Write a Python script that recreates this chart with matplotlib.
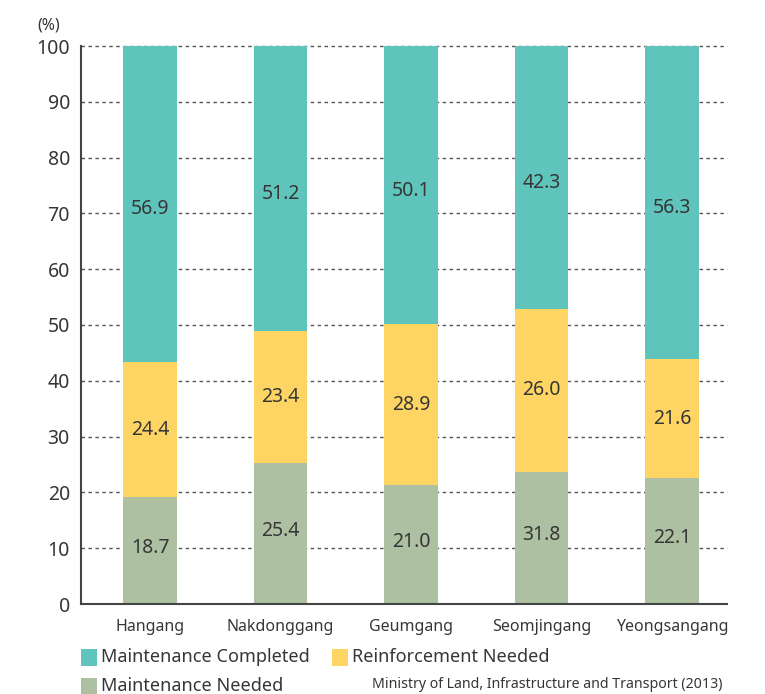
import matplotlib.pyplot as plt
import matplotlib.patches as mpatches

plt.rcParams['font.family'] = ['Noto Sans', 'DejaVu Sans']

# ── data ──────────────────────────────────────────────────────────────────────
rivers = ['Hangang', 'Nakdonggang', 'Geumgang', 'Seomjingang', 'Yeongsangang']
series = ['Maintenance Needed', 'Reinforcement Needed', 'Maintenance Completed']

# printed values
needed_lbl    = ['18.7', '25.4', '21.0', '31.8', '22.1']
reinforce_lbl = ['24.4', '23.4', '28.9', '26.0', '21.6']
completed_lbl = ['56.9', '51.2', '50.1', '42.3', '56.3']

# bar segment heights as drawn in the picture
needed    = [19.1, 25.3, 21.4, 23.7, 22.5]
reinforce = [24.3, 23.7, 28.7, 29.2, 21.4]
completed = [56.6, 51.0, 49.9, 47.1, 56.1]

yticks = [0, 10, 20, 30, 40, 50, 60, 70, 80, 90, 100]

C_DONE = '#5ec4bc'
C_REIN = '#fed563'
C_NEED = '#adc0a2'
TXT = '#363636'

W, H = 765, 694
fig = plt.figure(figsize=(W / 100, H / 100), dpi=100)
ax = fig.add_axes([81 / W, 1 - 604 / H, (727 - 81) / W, (604 - 46) / H])

x = list(range(len(rivers)))
bw = 0.41
ax.set_xlim(-0.53, 4.42)
ax.set_ylim(0, 100)

# gridlines
for t in yticks[1:]:
    ax.axhline(t, color='#555555', lw=1.0, ls=(0, (2.5, 2.5)), zorder=0, clip_on=False)

ax.bar(x, needed, bw, color=C_NEED, zorder=2)
ax.bar(x, reinforce, bw, bottom=needed, color=C_REIN, zorder=2)
ax.bar(x, completed, bw,
       bottom=[a + b for a, b in zip(needed, reinforce)], color=C_DONE, zorder=2)

for i in x:
    top_base = needed[i] + reinforce[i]
    ax.text(i, needed[i] / 2 + 0.5, needed_lbl[i], ha='center', va='center',
            fontsize=14, color=TXT, zorder=3)
    ax.text(i, needed[i] + reinforce[i] / 2, reinforce_lbl[i], ha='center',
            va='center', fontsize=14, color=TXT, zorder=3)
    ax.text(i, top_base + completed[i] / 2 - 1.0, completed_lbl[i], ha='center',
            va='center', fontsize=14, color=TXT, zorder=3)

for s in ['top', 'right']:
    ax.spines[s].set_visible(False)
for s in ['left', 'bottom']:
    ax.spines[s].set_color('#444444')
    ax.spines[s].set_linewidth(1.5)

ax.set_yticks(yticks)
ax.set_yticklabels([str(t) for t in yticks])
ax.set_xticks(x)
ax.set_xticklabels(rivers)
ax.tick_params(axis='y', length=0, pad=8, labelsize=14, labelcolor=TXT)
ax.tick_params(axis='x', length=0, pad=11, labelsize=11.5, labelcolor=TXT)

fig.text(49 / W, 1 - 25 / H, '(%)', ha='center', va='center', fontsize=11.5, color=TXT)

# ── legend (manual) ──────────────────────────────────────────────────────────
def legend_item(px, py, color, label):
    fig.patches.append(mpatches.Rectangle(
        (px / W, 1 - (py + 8.5) / H), 16 / W, 17 / H,
        facecolor=color, edgecolor='none', transform=fig.transFigure))
    fig.text((px + 20) / W, 1 - py / H, label, ha='left', va='center',
             fontsize=13, color=TXT)

legend_item(81, 657, C_DONE, series[2])
legend_item(332, 657, C_REIN, series[1])
legend_item(81, 686, C_NEED, series[0])

fig.text(723 / W, 1 - 684 / H, 'Ministry of Land, Infrastructure and Transport (2013)',
         ha='right', va='center', fontsize=10.2, color=TXT)

fig.savefig('out.png', dpi=100, facecolor='white')
